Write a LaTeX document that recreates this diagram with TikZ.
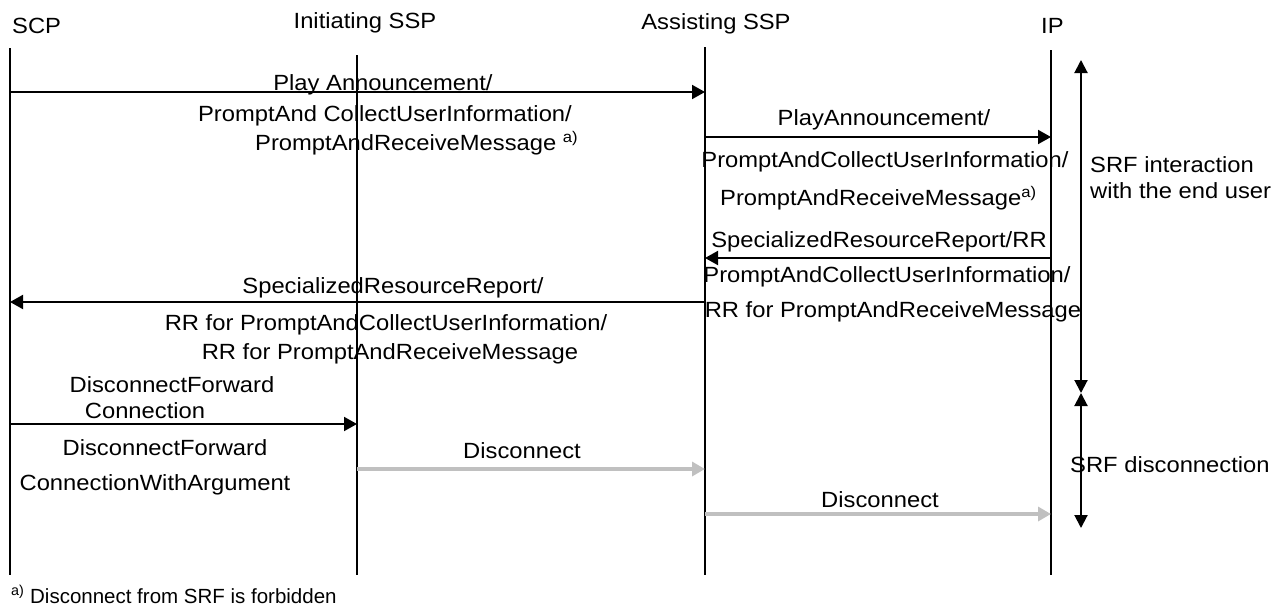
\documentclass[tikz,border=0pt]{standalone}
\usepackage{fontspec}
\setmainfont{Liberation Sans}
\newfontfamily\widesans{Liberation Sans}[FakeStretch=1.08]
\usepackage{tikz}
\usepackage{xcolor}
\usetikzlibrary{arrows.meta}
\definecolor{srfgray}{RGB}{192,192,192}

\begin{document}
\begin{tikzpicture}[x=1pt, y=-1pt,
		lbl/.style = {font=\widesans\fontsize{22}{26}\selectfont, inner sep=0pt, anchor=base},
		lifeline/.style = {line width=2pt},
		msg/.style = {line width=2pt, -{Triangle[length=13pt,width=14pt]}},
		greymsg/.style = {line width=4pt, draw=srfgray, -{Triangle[length=13pt,width=14pt]}},
		phase/.style = {line width=2pt, {Triangle[length=13pt,width=13pt]}-{Triangle[length=13pt,width=13pt]}}]
		\useasboundingbox (0,0) rectangle (1280,613);
		% lifelines
		\coordinate (scp) at (10,48);
		\coordinate (init) at (357,55);
		\coordinate (ass) at (705,47);
		\coordinate (ip) at (1051,50);
		\coordinate (bottom) at (0,575);
		\draw[lifeline] (scp) -- (scp |- bottom);
		\draw[lifeline] (init) -- (init |- bottom);
		\draw[lifeline] (ass) -- (ass |- bottom);
		\draw[lifeline] (ip) -- (ip |- bottom);
		\node[lbl, anchor=base west] (hscp) at (12,34) {SCP};
		\node[lbl] (hinit) at (365,28) {Initiating SSP};
		\node[lbl] (hass) at (716,29) {Assisting SSP};
		\node[lbl, anchor=base west] (hip) at (1041,34) {IP};
		% SCP -> assisting SSP
		\coordinate (m1) at (0,92);
		\draw[msg] (scp |- m1) -- (ass |- m1);
		\node[lbl] (play) at (383,90) {Play Announcement/};
		\node[lbl] (pacui) at (385,121) {PromptAnd CollectUserInformation/};
		\node[lbl, anchor=base west] (parm) at (255,150) {PromptAndReceiveMessage \textsuperscript{a)}};
		% assisting SSP -> IP
		\coordinate (m2) at (0,137);
		\draw[msg] (ass |- m2) -- (ip |- m2);
		\node[lbl] (ipplay) at (884,125) {PlayAnnouncement/};
		\node[lbl] (ippacui) at (885,167) {PromptAndCollectUserInformation/};
		\node[lbl, anchor=base west] (ipparm) at (720,205) {PromptAndReceiveMessage\textsuperscript{a)}};
		% IP -> assisting SSP
		\coordinate (m3) at (0,258);
		\draw[msg] (ip |- m3) -- (ass |- m3);
		\node[lbl] (iprep) at (879,247) {SpecializedResourceReport/RR};
		\node[lbl] (iprepa) at (887,282) {PromptAndCollectUserInformation/};
		\node[lbl] (iprepb) at (893,317) {RR for PromptAndReceiveMessage};
		% assisting SSP -> SCP
		\coordinate (m4) at (0,302);
		\draw[msg] (ass |- m4) -- (scp |- m4);
		\node[lbl] (rep) at (393,293) {SpecializedResourceReport/};
		\node[lbl] (repa) at (386,330) {RR for PromptAndCollectUserInformation/};
		\node[lbl] (repb) at (390,359) {RR for PromptAndReceiveMessage};
		% SCP -> initiating SSP
		\coordinate (m5) at (0,424);
		\draw[msg] (scp |- m5) -- (init |- m5);
		\node[lbl] (dfc) at (172,392) {DisconnectForward};
		\node[lbl] (dfcb) at (145,418) {Connection};
		\node[lbl] (dfcw) at (165,455) {DisconnectForward};
		\node[lbl] (dfcwb) at (155,490) {ConnectionWithArgument};
		% disconnect
		\coordinate (m6) at (0,469);
		\draw[greymsg] (init |- m6) -- (ass |- m6);
		\node[lbl] (disa) at (522,458) {Disconnect};
		\coordinate (m7) at (0,514);
		\draw[greymsg] (ass |- m7) -- (ip |- m7);
		\node[lbl] (disb) at (880,507) {Disconnect};
		% SRF phases
		\coordinate (srftop) at (1081,60);
		\coordinate (srfmid) at (1081,393);
		\coordinate (srfend) at (1081,528);
		\draw[phase] (srftop) -- (srfmid);
		\draw[phase] (srfmid) -- (srfend);
		\node[lbl, anchor=base west] (inter) at (1090,172) {SRF interaction};
		\node[lbl, anchor=base west] (intera) at (1090,198) {with the end user};
		\node[lbl, anchor=base west] (discon) at (1070,472) {SRF disconnection};
		\node[anchor=base west, inner sep=0pt, font=\fontsize{20.5}{24}\selectfont] (note) at (11,603) {\textsuperscript{a)} Disconnect from SRF is forbidden};
	\end{tikzpicture}
\end{document}
